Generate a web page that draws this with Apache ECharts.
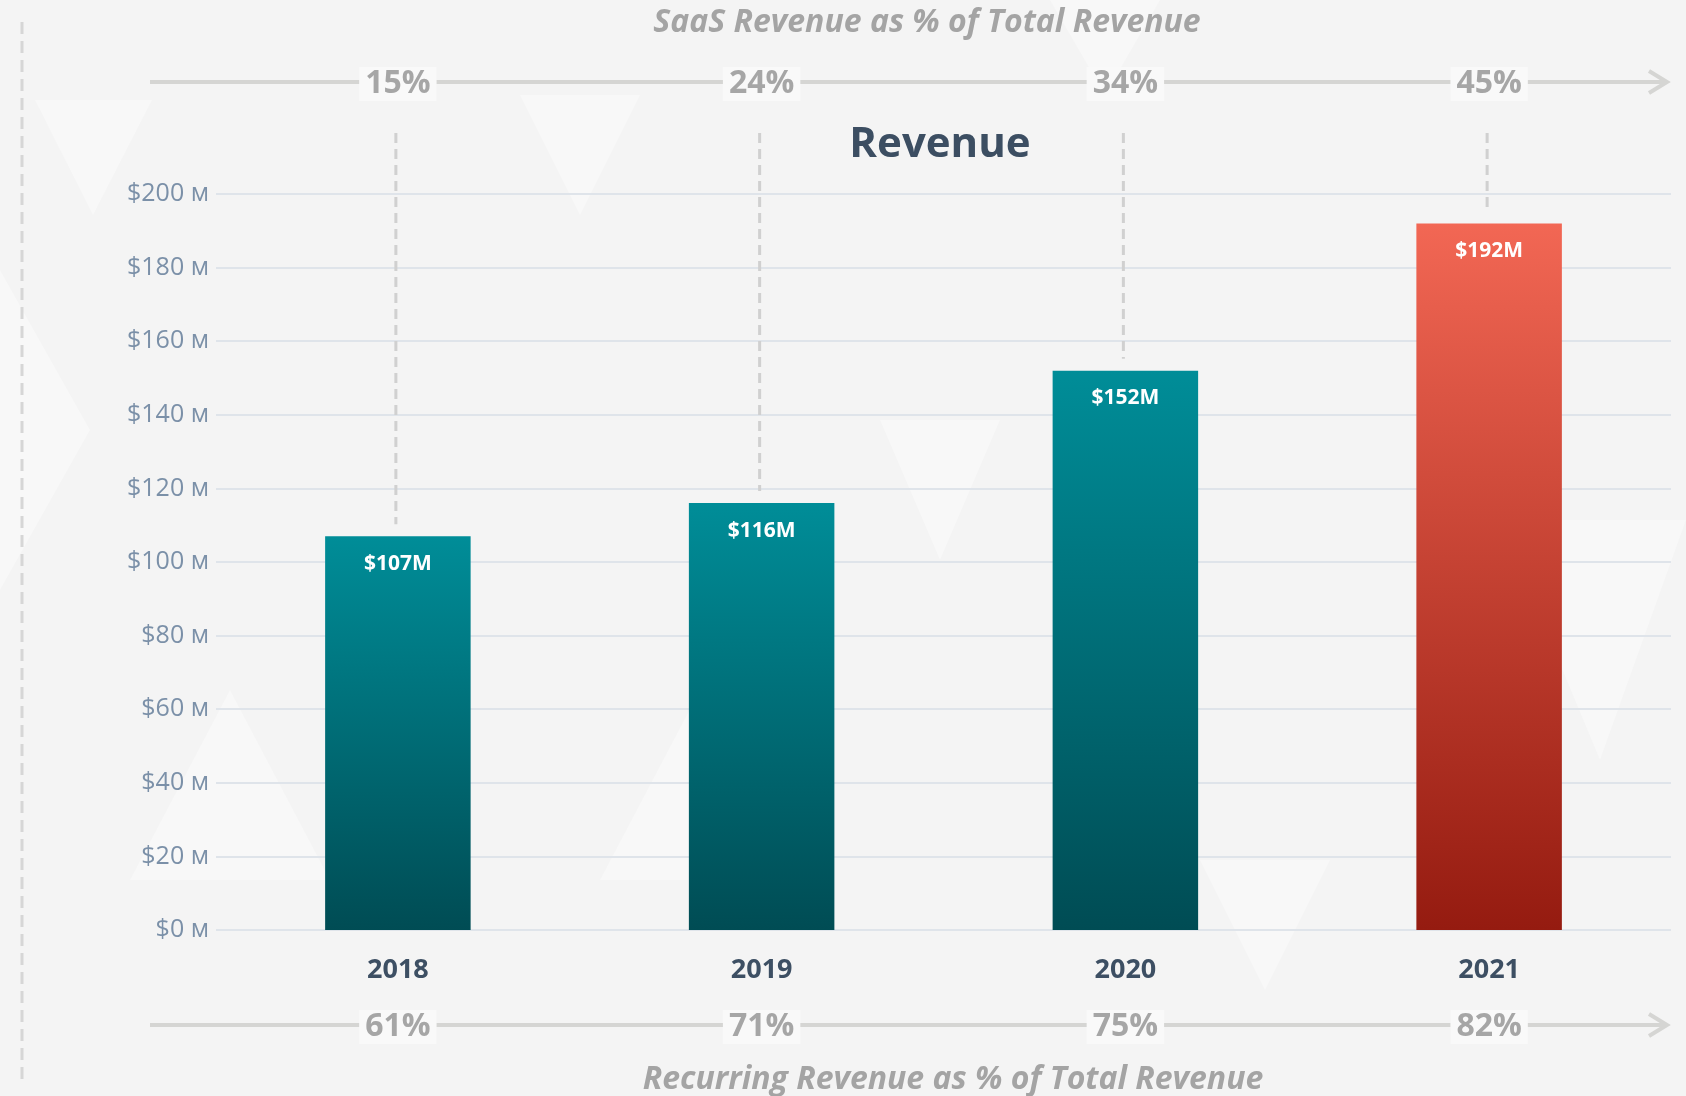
<!DOCTYPE html>
<html>
<head>
<meta charset="utf-8">
<script src="https://cdn.jsdelivr.net/npm/echarts@6/dist/echarts.min.js"></script>
<style>
html,body{margin:0;padding:0;background:#f5f5f5;}
#chart{width:1686px;height:1096px;}
</style>
</head>
<body>
<div id="chart"></div>
<script>
// ---- data ----
const years = ['2018', '2019', '2020', '2021'];
const revenue = [107, 116, 152, 192];              // $M
const saasPct = ['15%', '24%', '34%', '45%'];      // SaaS revenue as % of total
const recurringPct = ['61%', '71%', '75%', '82%']; // Recurring revenue as % of total
const yMin = 0, yMax = 200, yStep = 20;
const chartTitle = 'Revenue';
const topCaption = 'SaaS Revenue as % of Total Revenue';
const bottomCaption = 'Recurring Revenue as % of Total Revenue';

// ---- styles ----
const FONT = '"Open Sans", "Noto Sans", sans-serif';
const tealGrad = new echarts.graphic.LinearGradient(0, 0, 0, 1, [
  {offset: 0, color: '#008d98'}, {offset: 1, color: '#004c54'}]);
const redGrad = new echarts.graphic.LinearGradient(0, 0, 0, 1, [
  {offset: 0, color: '#f26754'}, {offset: 1, color: '#951b10'}]);

const chart = echarts.init(document.getElementById('chart'), null, {renderer: 'canvas'});

const barData = revenue.map((v, i) => ({
  value: v,
  itemStyle: {color: i === revenue.length - 1 ? redGrad : tealGrad}
}));

const pctLabel = {
  fontFamily: FONT, fontSize: 32, fontWeight: 'bold', color: '#a6a6a6',
  backgroundColor: '#f9f9f9', padding: [1, 6, 1, 6], verticalAlign: 'middle'
};

function arrowLine(y) {
  return [
    {type: 'line', z: 0, shape: {x1: 150, y1: y, x2: 1667, y2: y},
     style: {stroke: '#d5d5d3', lineWidth: 4}},
    {type: 'polyline', z: 0, shape: {points: [[1649, y - 11], [1667, y], [1649, y + 11]]},
     style: {stroke: '#d5d5d3', lineWidth: 4, fill: null}}
  ];
}

const bgTriangles = [
  [[35, 100], [152, 100], [93, 215]],
  [[1050, 0], [1160, 0], [1105, 95]],
  [[520, 95], [640, 95], [580, 215]],
  [[230, 690], [330, 880], [130, 880]],
  [[880, 420], [1000, 420], [940, 560]],
  [[1500, 520], [1686, 520], [1600, 760]],
  [[700, 690], [800, 880], [600, 880]],
  [[1200, 860], [1330, 860], [1265, 990]],
  [[0, 270], [90, 430], [0, 590]]
].map(p => ({type: 'polygon', z: -10, shape: {points: p},
  style: {fill: 'rgba(255,255,255,0.35)'}}));

const option = {
  backgroundColor: '#f4f4f4',
  animation: false,
  grid: {left: 216, right: 15, top: 194, bottom: 166, containLabel: false},
  xAxis: [
    {
      type: 'category', data: years, gridIndex: 0,
      axisLine: {show: false}, axisTick: {show: false},
      axisLabel: {margin: 40, verticalAlign: 'middle', fontFamily: FONT,
        fontSize: 27, fontWeight: 'bold', color: '#3d4f63'}
    },
    {
      type: 'category', data: saasPct, gridIndex: 0, position: 'top', z: 10,
      axisLine: {show: false}, axisTick: {show: false},
      axisLabel: Object.assign({margin: 110}, pctLabel)
    },
    {
      type: 'category', data: recurringPct, gridIndex: 0, position: 'bottom', z: 10,
      axisLine: {show: false}, axisTick: {show: false},
      axisLabel: Object.assign({margin: 97}, pctLabel)
    }
  ],
  yAxis: {
    type: 'value', min: yMin, max: yMax, interval: yStep,
    axisLine: {show: false}, axisTick: {show: false},
    axisLabel: {margin: 7, fontFamily: FONT, fontSize: 25, color: '#7b90a8',
      formatter: v => '$' + v + ' м'},
    splitLine: {lineStyle: {color: '#dfe4ea', width: 2}}
  },
  series: [
    {
      type: 'custom', xAxisIndex: 0, z: 1,
      data: revenue.map((v, i) => [i, v]),
      renderItem: function (params, api) {
        const top = api.coord([api.value(0), api.value(1)]);
        return {
          type: 'line',
          shape: {x1: top[0] - 2, y1: 133, x2: top[0] - 2, y2: top[1] - 12},
          style: {stroke: '#d0d0d0', lineWidth: 3, lineDash: [10, 6]}
        };
      },
      silent: true
    },
    {
      type: 'bar', xAxisIndex: 0, barWidth: '40%', z: 3,
      data: barData,
      label: {show: true, position: 'insideTop', distance: 17,
        fontFamily: FONT, fontSize: 21, fontWeight: 'bold', color: '#ffffff',
        formatter: p => '$' + p.value + 'M'}
    }
  ],
  graphic: [
    ...bgTriangles,
    {type: 'line', z: 0, shape: {x1: 22, y1: 22, x2: 22, y2: 1082},
     style: {stroke: '#d6d6d6', lineWidth: 3, lineDash: [12, 7]}},
    ...arrowLine(82),
    ...arrowLine(1025),
    {type: 'text', z: 5, x: 940, y: 145,
     style: {text: chartTitle, font: 'bold 42px ' + FONT, fill: '#3c4e62',
       textAlign: 'center', textVerticalAlign: 'middle', align: 'center', verticalAlign: 'middle'}},
    {type: 'text', z: 5, x: 927, y: 23,
     style: {text: topCaption, font: 'italic bold 32px ' + FONT, fill: '#a4a4a4',
       textAlign: 'center', textVerticalAlign: 'middle', align: 'center', verticalAlign: 'middle'}},
    {type: 'text', z: 5, x: 953, y: 1080,
     style: {text: bottomCaption, font: 'italic bold 32px ' + FONT, fill: '#a4a4a4',
       textAlign: 'center', textVerticalAlign: 'middle', align: 'center', verticalAlign: 'middle'}}
  ]
};

chart.setOption(option);
</script>
</body>
</html>
